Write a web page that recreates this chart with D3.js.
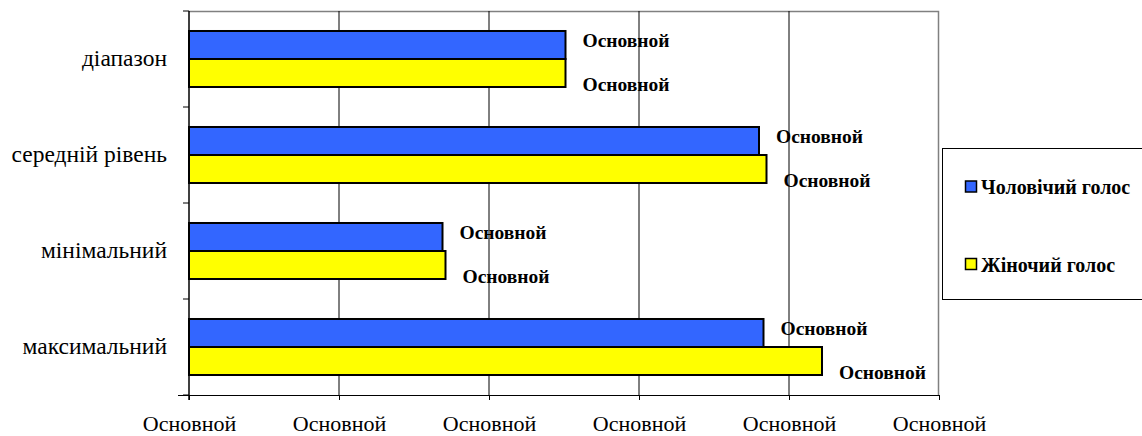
<!DOCTYPE html>
<html>
<head>
<meta charset="utf-8">
<script src="https://cdn.jsdelivr.net/npm/d3@7"></script>
<style>
  html, body { margin: 0; padding: 0; background: #fff; }
  svg { display: block; }
</style>
</head>
<body>
<svg id="chart" width="1142" height="436"></svg>
<script>
// Categories, top to bottom
const categories = ["діапазон", "середній рівень", "мінімальний", "максимальний"];
// Series
const seriesNames = ["Чоловічий голос", "Жіночий голос"];
const maleValues = [2.51, 3.80, 1.69, 3.83];
const femaleValues = [2.51, 3.85, 1.71, 4.22];
const seriesColors = ["#3366FF", "#FFFF00"];
// Axis ticks and their labels
const tickValues = [0, 1, 2, 3, 4, 5];
const tickLabels = ["Основной", "Основной", "Основной", "Основной", "Основной", "Основной"];
const dataLabel = "Основной";

const SERIF = '"Liberation Serif"';
const svg = d3.select("#chart");
const plot = { left: 189, right: 939, top: 11, bottom: 395 };

const x = d3.scaleLinear().domain([0, 5]).range([plot.left, plot.right]);
const y = d3.scaleBand().domain(categories).range([plot.top, plot.bottom]);
const inner = d3.scaleBand().domain([0, 1]).range([0, y.bandwidth()]).paddingOuter(0.714).paddingInner(0);

// Plot frame (top and right edges in gray)
svg.append("path")
  .attr("d", `M${plot.left},${plot.top + 0.5}H${plot.right - 0.5}V${plot.bottom}`)
  .attr("fill", "none").attr("stroke", "#808080").attr("stroke-width", 1.5);

// Vertical gridlines
svg.append("g").selectAll("line")
  .data(tickValues.slice(1, -1))
  .join("line")
  .attr("x1", d => x(d)).attr("x2", d => x(d))
  .attr("y1", plot.top).attr("y2", plot.bottom)
  .attr("stroke", "#000").attr("stroke-width", 1);

// Bars
const series = [maleValues, femaleValues];
const groups = svg.append("g").selectAll("g")
  .data(categories)
  .join("g")
  .attr("transform", d => `translate(0,${y(d)})`);

groups.selectAll("rect")
  .data((d, i) => series.map((s, k) => ({ k, v: s[i] })))
  .join("rect")
  .attr("x", x(0))
  .attr("y", d => inner(d.k))
  .attr("width", d => x(d.v) - x(0))
  .attr("height", inner.bandwidth())
  .attr("fill", d => seriesColors[d.k])
  .attr("stroke", "#000").attr("stroke-width", 2);

// Data labels
groups.selectAll("text")
  .data((d, i) => series.map((s, k) => ({ k, v: s[i] })))
  .join("text")
  .attr("x", d => x(d.v) + 17)
  .attr("y", d => inner(d.k) + inner.bandwidth() / 2 + (d.k === 0 ? -4 : 11.5))
  .attr("dominant-baseline", "central")
  .style("font-family", SERIF).style("font-weight", "bold").style("font-size", "19.5px")
  .attr("fill", "#000")
  .text(dataLabel);

// Bottom axis
const xAxis = d3.axisBottom(x).tickValues(tickValues)
  .tickFormat((d, i) => tickLabels[i]).tickSize(5).tickSizeOuter(0);
const gx = svg.append("g").attr("transform", `translate(0,${plot.bottom})`).call(xAxis);
gx.select(".domain").attr("stroke", "#000").attr("d", `M${plot.left - 11},0.5H${plot.right}`);
gx.selectAll(".tick line").attr("stroke", "#000");
gx.selectAll(".tick text")
  .attr("y", 36).attr("dy", null)
  .style("font-family", SERIF).style("font-size", "22px").attr("fill", "#000");

// Left axis with ticks at category boundaries
const boundaries = categories.map(c => y(c)).concat([plot.bottom]);
svg.append("line")
  .attr("x1", plot.left).attr("x2", plot.left)
  .attr("y1", plot.top).attr("y2", plot.bottom + 5)
  .attr("stroke", "#000").attr("stroke-width", 1.5);
svg.append("g").selectAll("line")
  .data(boundaries)
  .join("line")
  .attr("x1", plot.left - 6).attr("x2", plot.left)
  .attr("y1", d => d).attr("y2", d => d)
  .attr("stroke", "#000");
svg.append("g").selectAll("text")
  .data(categories)
  .join("text")
  .attr("x", 167)
  .attr("y", d => y(d) + y.bandwidth() / 2 + 7)
  .attr("text-anchor", "end")
  .style("font-family", SERIF).style("font-size", "23.5px").attr("fill", "#000")
  .text(d => d);

// Legend
const legend = svg.append("g");
legend.append("rect")
  .attr("x", 942.5).attr("y", 148.5).attr("width", 210).attr("height", 151)
  .attr("fill", "#fff").attr("stroke", "#000").attr("stroke-width", 1);
const items = legend.selectAll("g.item")
  .data(seriesNames)
  .join("g").attr("class", "item")
  .attr("transform", (d, i) => `translate(965,${186.5 + i * 77.5})`);
items.append("rect")
  .attr("x", 0.5).attr("y", -5.5).attr("width", 11).attr("height", 11)
  .attr("fill", (d, i) => seriesColors[i]).attr("stroke", "#000").attr("stroke-width", 1.5);
items.append("text")
  .attr("x", 16).attr("y", 7.5)
  .style("font-family", SERIF).style("font-weight", "bold").style("font-size", "20px")
  .attr("fill", "#000")
  .text(d => d);
</script>
</body>
</html>
